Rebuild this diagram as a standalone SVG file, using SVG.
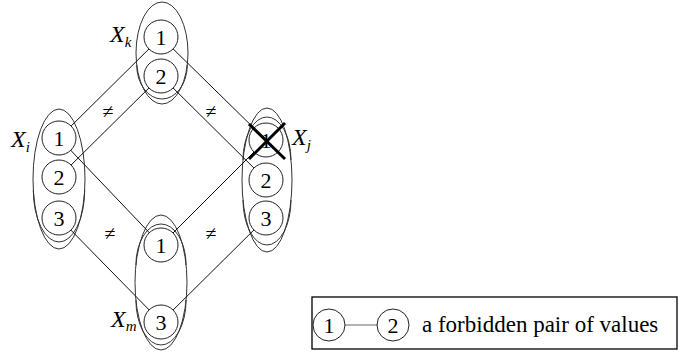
<svg xmlns="http://www.w3.org/2000/svg" width="678" height="352" viewBox="0 0 678 352">
  <style>
    .dom { fill: none; stroke: #333; stroke-width: 1; }
    .val { fill: #fff; stroke: #222; stroke-width: 1; }
    .edge { stroke: #111; stroke-width: 1; }
    text { font-family: "Liberation Serif", "Times New Roman", "DejaVu Serif", serif; fill: #000; }
    .num { font-size: 22px; text-anchor: middle; }
    .lbl { font-style: italic; font-size: 24px; }
    .sub { font-size: 15px; }
    .ne { font-size: 20px; text-anchor: middle; }
    .legend { font-size: 23px; }
  </style>

  <!-- domain outlines (drawn under the connectors) -->
  <g id="domains">
    <ellipse class="dom" cx="162" cy="53" rx="26" ry="51"/>
    <path class="dom" d="M136.7 65 A25.3 34 0 0 0 187.3 65"/>
    <ellipse class="dom" cx="59" cy="179" rx="26" ry="70"/>
    <path class="dom" d="M33.3 190 A25.7 52 0 0 0 84.7 190"/>
    <ellipse class="dom" cx="267" cy="180" rx="25" ry="72"/>
    <path class="dom" d="M243 200 A24 45 0 0 0 291 200"/>
    <path class="dom" d="M243 160 A24 43 0 0 1 291 160"/>
    <ellipse class="dom" cx="161" cy="282.5" rx="26" ry="67.5"/>
    <path class="dom" d="M135.9 300 A25.1 45 0 0 0 186.1 300"/>
    <path class="dom" d="M135.9 265 A25.1 41 0 0 1 186.1 265"/>
  </g>

  <!-- forbidden value pairs -->
  <g id="connectors">
    <line class="edge" x1="59" y1="138" x2="161" y2="37"/>
    <line class="edge" x1="59" y1="177" x2="161" y2="76"/>
    <line class="edge" x1="59" y1="138" x2="161" y2="245"/>
    <line class="edge" x1="59" y1="218" x2="161" y2="322"/>
    <line class="edge" x1="161" y1="37" x2="266" y2="140"/>
    <line class="edge" x1="161" y1="76" x2="266" y2="180"/>
    <line class="edge" x1="161" y1="245" x2="266" y2="140"/>
    <line class="edge" x1="161" y1="322" x2="266" y2="218"/>
  </g>

  <g id="Xk">
    <circle class="val" cx="161" cy="37" r="17"/>
    <text class="num" x="161" y="45">1</text>
    <circle class="val" cx="161" cy="76" r="17"/>
    <text class="num" x="161" y="84">2</text>
    <text class="lbl" x="110" y="42">X<tspan class="sub" dy="5">k</tspan></text>
  </g>

  <g id="Xi">
    <circle class="val" cx="59" cy="138" r="17"/>
    <text class="num" x="59" y="146">1</text>
    <circle class="val" cx="59" cy="177" r="17"/>
    <text class="num" x="59" y="185">2</text>
    <circle class="val" cx="59" cy="218" r="17"/>
    <text class="num" x="59" y="226">3</text>
    <text class="lbl" x="11" y="147">X<tspan class="sub" dy="5">i</tspan></text>
  </g>

  <g id="Xj">
    <circle class="val" cx="266" cy="140" r="17"/>
    <text class="num" x="266" y="148">1</text>
    <circle class="val" cx="266" cy="180" r="17"/>
    <text class="num" x="266" y="188">2</text>
    <circle class="val" cx="266" cy="218" r="17"/>
    <text class="num" x="266" y="226">3</text>
    <!-- removed value -->
    <line x1="249" y1="124" x2="285" y2="159" stroke="#000" stroke-width="3"/>
    <line x1="285" y1="123" x2="249" y2="159" stroke="#000" stroke-width="3"/>
    <text class="lbl" x="292" y="145">X<tspan class="sub" dy="5">j</tspan></text>
  </g>

  <g id="Xm">
    <circle class="val" cx="161" cy="245" r="17"/>
    <text class="num" x="161" y="253">1</text>
    <circle class="val" cx="161" cy="322" r="17"/>
    <text class="num" x="161" y="330">3</text>
    <text class="lbl" x="111" y="327">X<tspan class="sub" dy="4">m</tspan></text>
  </g>

  <g id="inequalities">
    <text class="ne" x="108" y="118">≠</text>
    <text class="ne" x="211" y="118">≠</text>
    <text class="ne" x="110" y="240">≠</text>
    <text class="ne" x="211" y="240">≠</text>
  </g>

  <g id="legend">
    <rect x="312" y="297" width="365" height="52" fill="none" stroke="#000" stroke-width="1.3"/>
    <line x1="328" y1="325" x2="393" y2="325" stroke="#666" stroke-width="1"/>
    <circle class="val" cx="329" cy="325" r="16"/>
    <text class="num" x="329" y="333">1</text>
    <circle class="val" cx="393" cy="325" r="16"/>
    <text class="num" x="393" y="333">2</text>
    <text class="legend" x="422" y="332">a forbidden pair of values</text>
  </g>
</svg>
